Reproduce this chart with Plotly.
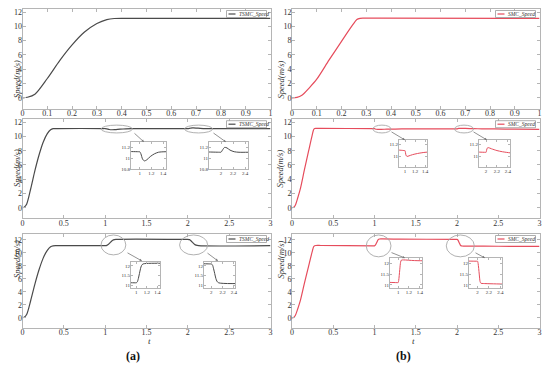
import plotly.graph_objects as go

W, H = 550, 375
FONT = "Liberation Serif"
GRAY = "#b5b5b5"
TSMC_COLOR = "#4a4a4a"
SMC_COLOR = "#e64c5c"

# ---------------- data ----------------
# start-up phase, TSMC
tsmc_start_t = [0, 0.02, 0.05, 0.1, 0.15, 0.2, 0.25, 0.3, 0.34, 0.37, 0.42]
tsmc_start_v = [0, 0.08, 0.5, 2.7, 5.2, 7.4, 9.2, 10.4, 10.95, 11.1, 11.12]
# start-up phase, SMC
smc_start_t = [0, 0.02, 0.04, 0.07, 0.1, 0.15, 0.2, 0.245, 0.262, 0.275, 0.29, 0.35]
smc_start_v = [0, 0.05, 0.35, 1.4, 2.6, 5.3, 7.9, 10.2, 10.95, 11.12, 11.15, 11.15]

# row 1: 0..1 s
tsmc_r1_t = tsmc_start_t + [1.0]
tsmc_r1_v = tsmc_start_v + [11.12]
smc_r1_t = smc_start_t + [1.0]
smc_r1_v = smc_start_v + [11.12]

# row 2: load disturbance at t=1 and t=2
tsmc_r2_t = tsmc_start_t + [0.99, 1.0, 1.02, 1.05, 1.08, 1.12, 1.18, 1.25, 1.32, 1.45,
                            1.99, 2.0, 2.03, 2.06, 2.1, 2.15, 2.22, 2.3, 2.45, 3.0]
tsmc_r2_v = tsmc_start_v + [11.12, 11.12, 11.08, 10.98, 10.95, 10.97, 11.03, 11.08, 11.11, 11.12,
                            11.11, 11.11, 11.16, 11.2, 11.19, 11.15, 11.12, 11.11, 11.11, 11.11]
smc_r2_t = smc_start_t + [0.99, 1.0, 1.02, 1.04, 1.08, 1.15, 1.25, 1.4, 1.6,
                          1.99, 2.0, 2.02, 2.04, 2.1, 2.2, 2.3, 2.45, 2.7, 3.0]
smc_r2_v = smc_start_v + [11.1, 11.1, 11.02, 11.0, 11.01, 11.03, 11.05, 11.07, 11.08,
                          11.07, 11.07, 11.14, 11.15, 11.13, 11.1, 11.08, 11.06, 11.03, 11.0]

# row 3: speed reference step 11.1 -> 12.1 -> 11.1
tsmc_r3_t = tsmc_start_t + [0.99, 1.0, 1.02, 1.04, 1.06, 1.08, 1.1, 1.13, 1.99,
                            2.0, 2.02, 2.04, 2.06, 2.08, 2.1, 2.13, 3.0]
tsmc_r3_v = tsmc_start_v + [11.12, 11.12, 11.17, 11.35, 11.6, 11.85, 12.02, 12.1, 12.1,
                            12.1, 12.05, 11.85, 11.6, 11.35, 11.2, 11.12, 11.12]
smc_r3_t = smc_start_t + [0.99, 1.0, 1.01, 1.03, 1.045, 1.06, 1.1, 1.3, 1.99,
                          2.0, 2.01, 2.03, 2.045, 2.06, 2.1, 2.5, 3.0]
smc_r3_v = smc_start_v + [11.1, 11.1, 11.2, 11.7, 12.05, 12.15, 12.16, 12.13, 12.1,
                          12.1, 12.0, 11.5, 11.15, 11.07, 11.06, 11.03, 11.0]

y_ticks = [0, 2, 4, 6, 8, 10, 12]
x_ticks_r1 = [0, 0.1, 0.2, 0.3, 0.4, 0.5, 0.6, 0.7, 0.8, 0.9, 1]
x_ticks_r23 = [0, 0.5, 1, 1.5, 2, 2.5, 3]
inset_r2_yticks = [10.8, 11, 11.2]
inset_r3_yticks = [11, 11.5, 12]
inset_a_xticks = [1, 1.2, 1.4]
inset_b_xticks = [2, 2.2, 2.4]

# ---------------- helpers ----------------
def dx(a, b):
    return [a / W, b / W]

def dy(top, bottom):
    return [1 - bottom / H, 1 - top / H]

fig = go.Figure()
layout_axes = {}
count = [0]

def add_axes(xdom, ydom, xr, yr, xt, yt, fs, ticklen=3, stand=-2, xstand=-3):
    count[0] += 1
    n = count[0]
    xs = "" if n == 1 else str(n)
    common = dict(showline=True, linecolor=GRAY, linewidth=1, mirror="ticks",
                  ticks="inside", ticklen=ticklen, tickcolor=GRAY, tickwidth=1,
                  showgrid=False, zeroline=False, automargin=False,
                  tickfont=dict(family=FONT, size=fs, color="#333"))
    layout_axes["xaxis" + xs] = dict(domain=xdom, range=xr, anchor="y" + xs,
                                     tickvals=xt, ticklabelstandoff=xstand, **common)
    layout_axes["yaxis" + xs] = dict(domain=ydom, range=yr, anchor="x" + xs,
                                     tickvals=yt, ticklabelstandoff=stand, **common)
    return "x" + xs, "y" + xs

def add_line(xa, ya, t, v, color, width):
    fig.add_trace(go.Scatter(x=t, y=v, mode="lines", xaxis=xa, yaxis=ya,
                             line=dict(color=color, width=width, shape="spline",
                                       smoothing=0.8),
                             showlegend=False, hoverinfo="skip", cliponaxis=True))

shapes = []
annotations = []

COLS = {
    "L": dict(x0=22.5, x1=270.5, name="TSMC_Speed", color=TSMC_COLOR,
              data=[(tsmc_r1_t, tsmc_r1_v), (tsmc_r2_t, tsmc_r2_v), (tsmc_r3_t, tsmc_r3_v)],
              title_x=9.5, label="(a)", label_x=124),
    "R": dict(x0=292, x1=539.5, name="SMC_Speed", color=SMC_COLOR,
              data=[(smc_r1_t, smc_r1_v), (smc_r2_t, smc_r2_v), (smc_r3_t, smc_r3_v)],
              title_x=280, label="(b)", label_x=413),
}
ROWS = [
    dict(top=8.5, bottom=108.5, yr=[-1.5, 12.5], xr=[0, 1], xt=x_ticks_r1),
    dict(top=118.7, bottom=218.4, yr=[-1.5, 12.5], xr=[0, 3], xt=x_ticks_r23),
    dict(top=233.5, bottom=327.5, yr=[-1.5, 13], xr=[0, 3], xt=x_ticks_r23),
]

INSETS = {
    ("L", 1): [
        dict(box=(131, 166, 142, 169), xr=[0.85, 1.45], yr=[10.8, 11.3], xt=inset_a_xticks, yt=inset_r2_yticks,
             ell=(0.95, 1.33, 10.5, 11.6), tail=(133, 132), head=(144, 142)),
        dict(box=(209, 248, 142, 169), xr=[1.8, 2.45], yr=[10.8, 11.3], xt=inset_b_xticks, yt=inset_r2_yticks,
             ell=(1.96, 2.3, 10.5, 11.6), tail=(212, 132), head=(226, 142)),
    ],
    ("L", 2): [
        dict(box=(131, 160, 262, 288), xr=[0.9, 1.45], yr=[10.85, 12.2], xt=inset_a_xticks, yt=inset_r3_yticks,
             ell=(0.95, 1.25, 9.7, 12.77), tail=(126, 252), head=(142, 261)),
        dict(box=(204, 235, 262, 288), xr=[1.87, 2.42], yr=[10.85, 12.2], xt=inset_b_xticks, yt=inset_r3_yticks,
             ell=(1.9, 2.24, 9.7, 12.77), tail=(206, 252), head=(218, 261)),
    ],
    ("R", 1): [
        dict(box=(399, 427, 140, 167), xr=[0.88, 1.44], yr=[10.82, 11.28], xt=inset_a_xticks, yt=inset_r2_yticks,
             ell=(0.98, 1.2, 10.5, 11.6), tail=(390, 131), head=(405, 140)),
        dict(box=(479, 510, 140, 167), xr=[1.87, 2.44], yr=[10.82, 11.28], xt=inset_b_xticks, yt=inset_r2_yticks,
             ell=(1.97, 2.2, 10.5, 11.6), tail=(472, 131), head=(487, 140)),
    ],
    ("R", 2): [
        dict(box=(390, 422, 258, 288), xr=[0.85, 1.44], yr=[10.85, 12.25], xt=inset_a_xticks, yt=inset_r3_yticks,
             ell=(0.9, 1.2, 9.4, 12.77), tail=(390, 252), head=(405, 258)),
        dict(box=(469, 502, 258, 288), xr=[1.85, 2.43], yr=[10.85, 12.25], xt=inset_b_xticks, yt=inset_r3_yticks,
             ell=(1.87, 2.21, 9.4, 12.77), tail=(474, 252), head=(485, 258)),
    ],
}

for key, col in COLS.items():
    for ri, row in enumerate(ROWS):
        xa, ya = add_axes(dx(col["x0"], col["x1"]), dy(row["top"], row["bottom"]),
                          row["xr"], row["yr"], row["xt"], y_ticks, 8)
        t, v = col["data"][ri]
        add_line(xa, ya, t, v, col["color"], 1.2)
        annotations.append(dict(x=col["title_x"] / W, y=1 - (row["top"] + row["bottom"]) / 2 / H,
                                xref="paper", yref="paper", text="<i>Speed(m/s)</i>",
                                textangle=-90, showarrow=False,
                                font=dict(family=FONT, size=8.5, color="#333")))
        lx1 = col["x1"] - 4
        lx0 = lx1 - 40
        ly0 = row["top"] + 2
        ly1 = ly0 + 7
        shapes.append(dict(type="rect", xref="paper", yref="paper",
                           x0=lx0 / W, x1=lx1 / W, y0=1 - ly1 / H, y1=1 - ly0 / H,
                           line=dict(color="#999", width=0.8), fillcolor="white", layer="above"))
        shapes.append(dict(type="line", xref="paper", yref="paper",
                           x0=(lx0 + 2) / W, x1=(lx0 + 9) / W,
                           y0=1 - (ly0 + 3.5) / H, y1=1 - (ly0 + 3.5) / H,
                           line=dict(color=col["color"], width=1.2), layer="above"))
        annotations.append(dict(x=(lx0 + 10) / W, y=1 - (ly0 + 3.5) / H, xref="paper", yref="paper",
                                text="<i>" + col["name"] + "</i>", showarrow=False,
                                xanchor="left", yanchor="middle",
                                font=dict(family=FONT, size=5.5, color="#333")))
        for ins in INSETS.get((key, ri), []):
            bx0, bx1, by0, by1 = ins["box"]
            ixa, iya = add_axes(dx(bx0, bx1), dy(by0, by1), ins["xr"], ins["yr"],
                                ins["xt"], ins["yt"], 5, ticklen=2, stand=-1, xstand=-1)
            add_line(ixa, iya, t, v, col["color"], 1.0)
            e = ins["ell"]
            shapes.append(dict(type="circle", xref=xa, yref=ya, x0=e[0], x1=e[1], y0=e[2], y1=e[3],
                               line=dict(color="#a8a8a8", width=0.9)))
            hx, hy = ins["head"]
            tx, ty = ins["tail"]
            annotations.append(dict(x=hx / W, y=1 - hy / H, xref="paper", yref="paper",
                                    ax=tx - hx, ay=ty - hy, axref="pixel", ayref="pixel",
                                    text="", showarrow=True, arrowhead=2, arrowsize=0.6,
                                    arrowwidth=0.8, arrowcolor="#777"))
    annotations.append(dict(x=(col["x0"] + col["x1"]) / 2 / W, y=1 - 347 / H, xref="paper", yref="paper",
                            text="<i>t</i>", showarrow=False, borderpad=0,
                            font=dict(family=FONT, size=9, color="#333")))
    annotations.append(dict(x=col["label_x"] / W, y=1 - 365 / H, xref="paper", yref="paper",
                            text="<b>" + col["label"] + "</b>", showarrow=False,
                            font=dict(family=FONT, size=12, color="#111")))

fig.update_layout(template="none", width=W, height=H, margin=dict(l=0, r=0, t=0, b=0, autoexpand=False),
                  paper_bgcolor="white", plot_bgcolor="white",
                  shapes=shapes, annotations=annotations, **layout_axes)
fig.write_html("out.html", config={"displayModeBar": False},
               post_script="document.body.style.margin='0';document.body.style.overflow='hidden';")
